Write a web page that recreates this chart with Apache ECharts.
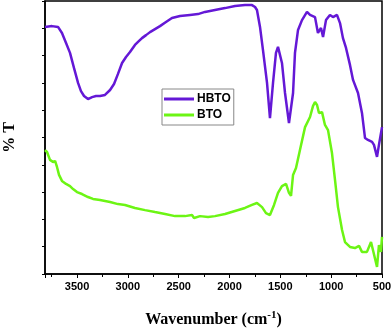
<!DOCTYPE html>
<html lang="en">
  <head>
    <meta charset="UTF-8" />
    <title>FTIR</title>
    <style>
      html, body { margin: 0; padding: 0; background: #fff; }
      #main { width: 392px; height: 328px; }
    </style>
  </head>
  <body>
    <script src="https://cdn.jsdelivr.net/npm/echarts@6/dist/echarts.min.js"></script>
    <div id="main"></div>
    <script>
      // wavenumber (cm-1) and %T (arbitrary units, 0..10)
      const hbtoWave = [3815, 3746, 3687, 3648, 3608, 3569, 3530, 3490, 3461, 3431, 3392, 3352, 3313, 3274, 3225, 3175, 3136, 3097, 3057, 3018, 2979, 2930, 2900, 2861, 2821, 2782, 2733, 2684, 2625, 2566, 2487, 2389, 2310, 2241, 2143, 2044, 1946, 1848, 1779, 1749, 1730, 1700, 1671, 1631, 1602, 1572, 1543, 1523, 1484, 1454, 1415, 1375, 1356, 1326, 1287, 1238, 1208, 1159, 1130, 1100, 1080, 1051, 1012, 982, 943, 913, 884, 854, 815, 785, 736, 697, 667, 638, 598, 579, 549, 530, 500]
      const hbtoT = [9.05, 9.08, 9.05, 8.83, 8.46, 8.10, 7.55, 7.00, 6.70, 6.52, 6.41, 6.48, 6.52, 6.52, 6.56, 6.74, 6.96, 7.33, 7.73, 7.95, 8.13, 8.39, 8.50, 8.64, 8.75, 8.86, 8.97, 9.08, 9.23, 9.38, 9.45, 9.49, 9.52, 9.60, 9.67, 9.74, 9.82, 9.85, 9.85, 9.78, 9.67, 9.05, 8.21, 7.00, 5.71, 7.00, 8.10, 8.32, 7.73, 6.63, 5.53, 6.63, 8.10, 8.94, 9.30, 9.60, 9.49, 9.41, 8.83, 9.01, 8.68, 9.30, 9.49, 9.41, 9.49, 9.19, 8.64, 8.28, 7.66, 7.11, 6.63, 5.90, 4.98, 4.91, 4.84, 4.73, 4.29, 4.73, 5.38]

      const btoWave = [3815, 3795, 3766, 3736, 3716, 3697, 3677, 3648, 3608, 3569, 3539, 3500, 3451, 3392, 3343, 3274, 3175, 3097, 3028, 2930, 2831, 2733, 2634, 2536, 2438, 2369, 2349, 2290, 2211, 2143, 2044, 1946, 1848, 1779, 1730, 1680, 1641, 1602, 1562, 1523, 1484, 1444, 1415, 1395, 1375, 1346, 1307, 1257, 1208, 1179, 1159, 1139, 1120, 1090, 1061, 1031, 992, 962, 933, 893, 864, 815, 766, 726, 697, 648, 608, 589, 549, 530, 510, 500]
      const btoT = [4.54, 4.47, 4.18, 4.10, 4.14, 3.92, 3.63, 3.41, 3.30, 3.22, 3.11, 3.00, 2.93, 2.82, 2.75, 2.71, 2.64, 2.56, 2.53, 2.42, 2.34, 2.27, 2.20, 2.12, 2.12, 2.16, 2.05, 2.12, 2.09, 2.12, 2.20, 2.31, 2.42, 2.53, 2.60, 2.45, 2.23, 2.16, 2.53, 2.97, 3.22, 3.30, 2.97, 2.86, 3.63, 3.88, 4.54, 5.38, 5.75, 6.15, 6.30, 6.19, 5.90, 5.93, 5.46, 5.27, 4.43, 3.44, 2.45, 1.61, 1.17, 0.99, 0.95, 1.03, 0.81, 0.81, 1.17, 0.88, 0.26, 1.06, 0.81, 1.36]

      const seriesNames = ['HBTO', 'BTO']
      const seriesColors = ['#6418d6', '#6cf514']

      const zip = (xs, ys) => xs.map((x, i) => [x, ys[i]])

      const chart = echarts.init(document.getElementById('main'))
      chart.setOption({
        animation: false,
        grid: {
          left: 45,
          right: 10,
          top: 1,
          bottom: 54,
          outerBoundsMode: 'none',
          show: true,
          borderColor: '#000',
          borderWidth: 1.5
        },
        legend: {
          left: 162,
          top: 89,
          orient: 'vertical',
          icon: 'rect',
          itemWidth: 30,
          itemHeight: 3,
          itemGap: 4,
          padding: [4, 3, 4, 2],
          borderColor: '#888',
          borderWidth: 1,
          textStyle: {
            fontFamily: 'Liberation Sans',
            fontWeight: 'bold',
            fontSize: 12,
            color: '#000',
            padding: [0, 0, 0, -2]
          },
          data: seriesNames
        },
        xAxis: {
          type: 'value',
          inverse: true,
          min: 500,
          max: 3815,
          interval: 500,
          name: '{a|Wavenumber (cm}{s|-1}{a|)}',
          nameLocation: 'middle',
          nameGap: 36,
          nameTextStyle: {
            rich: {
              a: { fontFamily: 'Liberation Serif', fontWeight: 'bold', fontSize: 16, color: '#000' },
              s: { fontFamily: 'Liberation Serif', fontWeight: 'bold', fontSize: 11, color: '#000', verticalAlign: 'top', padding: [0, 0, 8, 0] }
            }
          },
          splitLine: { show: false },
          axisLine: { lineStyle: { color: '#000', width: 1.5 } },
          axisTick: { length: 4, lineStyle: { color: '#000' } },
          minorTick: { show: true, splitNumber: 2, length: 3, lineStyle: { color: '#000' } },
          axisLabel: {
            showMaxLabel: false,
            margin: 7,
            formatter: v => String(v),
            fontFamily: 'Liberation Sans',
            fontWeight: 'bold',
            fontSize: 11,
            color: '#000'
          }
        },
        yAxis: {
          type: 'value',
          min: 0,
          max: 10,
          interval: 1,
          name: '% T',
          nameLocation: 'middle',
          nameGap: 27,
          nameTextStyle: { fontFamily: 'Liberation Serif', fontWeight: 'bold', fontSize: 16, color: '#000' },
          splitLine: { show: false },
          axisLine: { lineStyle: { color: '#000', width: 1.5 } },
          axisTick: { length: 3, lineStyle: { color: '#000' } },
          axisLabel: { show: false }
        },
        series: [
          {
            name: seriesNames[0],
            type: 'line',
            data: zip(hbtoWave, hbtoT),
            showSymbol: false,
            color: seriesColors[0],
            lineStyle: { width: 2.5 }
          },
          {
            name: seriesNames[1],
            type: 'line',
            data: zip(btoWave, btoT),
            showSymbol: false,
            color: seriesColors[1],
            lineStyle: { width: 2.5 }
          }
        ]
      })
    </script>
  </body>
</html>
